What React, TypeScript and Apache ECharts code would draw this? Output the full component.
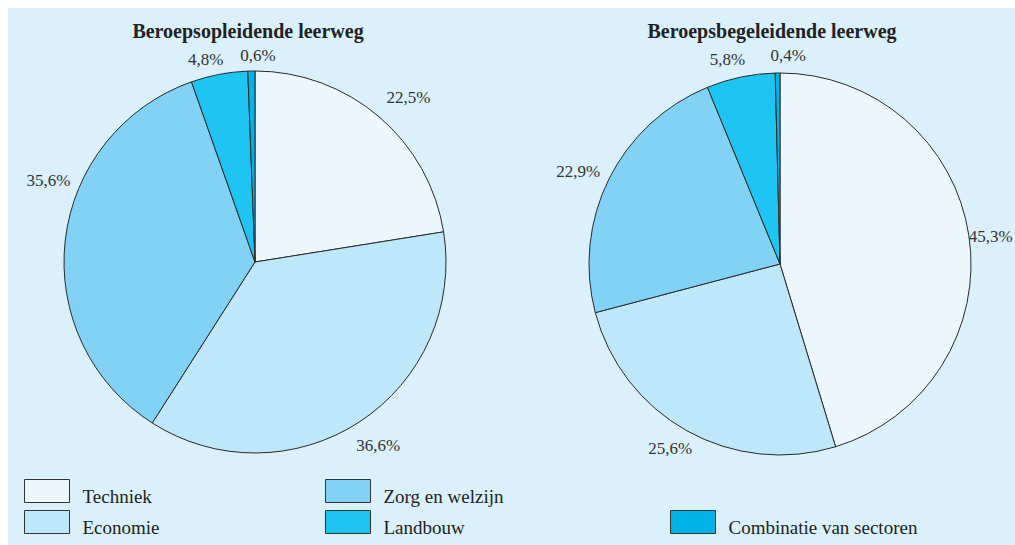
import React, { useEffect, useRef } from "react";
import * as echarts from "echarts";

const categories = ["Techniek", "Economie", "Zorg en welzijn", "Landbouw", "Combinatie van sectoren"];
const opleidendValues = [22.5, 36.6, 35.6, 4.8, 0.6];
const begeleidendValues = [45.3, 25.6, 22.9, 5.8, 0.4];
const titles = ["Beroepsopleidende leerweg", "Beroepsbegeleidende leerweg"];
const colors = ["#ebf7fd", "#bee7f9", "#82d2f5", "#1fc5f2", "#00b4e9"];

// small hand offsets of the percentage labels (px), relative to a radial placement
const labelNudge: [number, number][][] = [
  [[10, 4], [2, -1], [13, -56], [-8, 15], [7, 14]],
  [[-8, 5], [-2, -8], [-4, 6], [-7, 12], [11, 12]],
];

const FONT = "Liberation Serif";
const CENTERS: [number, number][] = [[247, 254], [772, 256]];
const RADIUS = 191;
const LABEL_GAP = 30;

export default function App() {
  const ref = useRef<HTMLDivElement>(null);
  useEffect(() => {
    if (!ref.current) return;
    const chart = echarts.init(ref.current, undefined, { renderer: "svg" });
    const allValues = [opleidendValues, begeleidendValues];
    const fmt = (p: any) => p.value.toFixed(1).replace(".", ",") + "%";
    const midAngle = (vals: number[], i: number) => {
      const total = vals.reduce((a, b) => a + b, 0);
      let before = 0;
      for (let k = 0; k < i; k++) before += vals[k];
      return ((before + vals[i] / 2) / total) * Math.PI * 2;
    };
    const mkSeries = (values: number[], center: [number, number]) => ({
      type: "pie",
      center,
      radius: RADIUS,
      startAngle: 90,
      clockwise: true,
      avoidLabelOverlap: false,
      data: categories.map((c, i) => ({ name: c, value: values[i], itemStyle: { color: colors[i] } })),
      itemStyle: { borderColor: "#2a2a2a", borderWidth: 1 },
      label: {
        show: true,
        position: "outside",
        formatter: fmt,
        fontFamily: FONT,
        fontSize: 17,
        color: "#333",
      },
      labelLine: { show: false, length: 14, length2: 0 },
      labelLayout: (p: any) => {
        const s = p.seriesIndex;
        const i = p.dataIndex;
        const a = midAngle(allValues[s], i);
        const R = RADIUS + LABEL_GAP;
        const [nx, ny] = labelNudge[s][i];
        return {
          x: CENTERS[s][0] + R * Math.sin(a) + nx,
          y: CENTERS[s][1] - R * Math.cos(a) + ny,
          align: "center",
          verticalAlign: "middle",
          hideOverlap: false,
        };
      },
      emphasis: { disabled: true },
    });
    const legendBase = {
      orient: "vertical",
      icon: "rect",
      itemWidth: 45,
      itemHeight: 23,
      itemGap: 4,
      padding: 0,
      selectedMode: false,
      itemStyle: { borderColor: "#333", borderWidth: 1 },
      formatter: (name: string) => "{t|" + name + "}",
      textStyle: {
        fontFamily: FONT,
        fontSize: 19,
        color: "#222",
        rich: {
          t: { fontFamily: FONT, fontSize: 19, color: "#222", padding: [11, 0, 0, 8] },
        },
      },
    };
    chart.setOption({
      animation: false,
      backgroundColor: "#daf0fb",
      textStyle: { fontFamily: FONT },
      title: [
        {
          text: titles[0],
          left: 235,
          top: 8,
          textAlign: "center",
          textStyle: { fontFamily: FONT, fontSize: 20, fontWeight: "bold", color: "#222" },
        },
        {
          text: titles[1],
          left: 759,
          top: 8,
          textAlign: "center",
          textStyle: { fontFamily: FONT, fontSize: 20, fontWeight: "bold", color: "#222" },
        },
      ],
      legend: [
        { ...legendBase, left: 16, top: 471, data: [categories[0], categories[1]] },
        { ...legendBase, left: 317, top: 471, data: [categories[2], categories[3]] },
        { ...legendBase, left: 662, top: 502, data: [categories[4]] },
      ],
      series: [mkSeries(opleidendValues, CENTERS[0]), mkSeries(begeleidendValues, CENTERS[1])],
    });
    return () => chart.dispose();
  }, []);
  return (
    <div ref={ref} style={{ position: "absolute", left: 8, top: 8, width: 1007, height: 537 }} />
  );
}
